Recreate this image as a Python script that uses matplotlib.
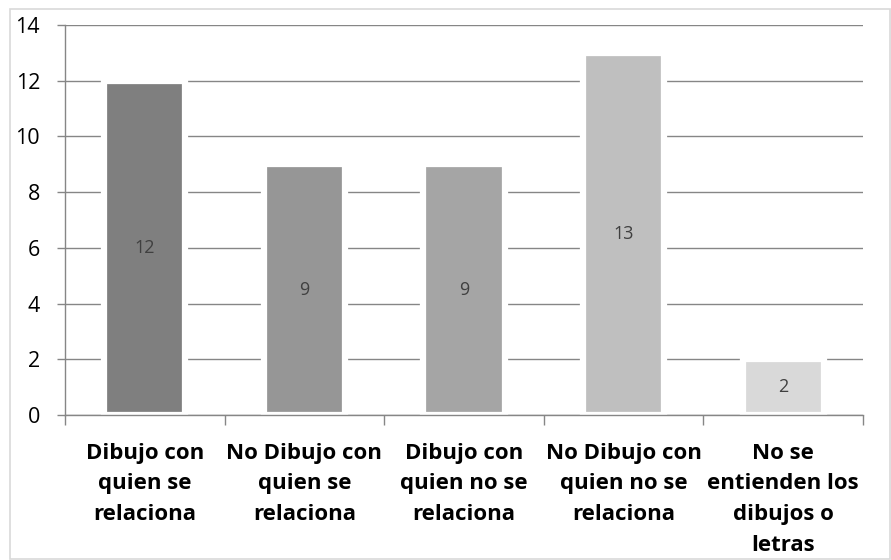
"""Bar chart: relation between drawings and people."""

import matplotlib.pyplot as plt
from matplotlib.patches import Rectangle

categories = [
    "Dibujo con\nquien se\nrelaciona",
    "No Dibujo con\nquien se\nrelaciona",
    "Dibujo con\nquien no se\nrelaciona",
    "No Dibujo con\nquien no se\nrelaciona",
    "No se\nentienden los\ndibujos o\nletras",
]
values = [12, 9, 9, 13, 2]
colors = ["#7f7f7f", "#969696", "#a5a5a5", "#bfbfbf", "#d9d9d9"]

fig = plt.figure(figsize=(8.91, 5.60), dpi=100)
fig.patches.append(
    Rectangle((10 / 891, 0.002), 880 / 891, 1 - 9 / 560 - 0.002,
              transform=fig.transFigure, fill=False, edgecolor="#d9d9d9",
              linewidth=1.2)
)
ax = fig.add_axes([65 / 891, 1 - 415 / 560, 798 / 891, 390 / 560])

x = list(range(len(values)))
bars = ax.bar(x, values, width=0.51, color=colors, edgecolor="white",
              linewidth=4.5, zorder=2)
for bar, v in zip(bars, values):
    ax.text(bar.get_x() + bar.get_width() / 2, v / 2, str(v),
            ha="center", va="center", fontsize=13, color="#404040",
            family="Open Sans", zorder=3)

ax.set_xlim(-0.5, len(values) - 0.5)
ax.set_ylim(0, 14)
ax.set_yticks(range(0, 15, 2))
ax.set_axisbelow(True)
ax.yaxis.grid(True, color="#868686", linewidth=1.0)
ax.tick_params(axis="y", length=6, width=1, color="#868686", pad=12,
               labelsize=15.5)
for lab in ax.get_yticklabels():
    lab.set_family("Open Sans")

ax.set_xticks(x)
ax.set_xticklabels(categories, fontsize=16, fontweight="bold",
                   family="Open Sans", linespacing=1.6, va="top")
ax.tick_params(axis="x", length=0, pad=20)
ax.set_xticks([i - 0.5 for i in range(len(values) + 1)], minor=True)
ax.tick_params(axis="x", which="minor", length=7, width=1, color="#868686")

for side in ["top", "right"]:
    ax.spines[side].set_visible(False)
for side in ["left", "bottom"]:
    ax.spines[side].set_color("#868686")
    ax.spines[side].set_linewidth(1.0)

fig.savefig("out.png", dpi=100)
